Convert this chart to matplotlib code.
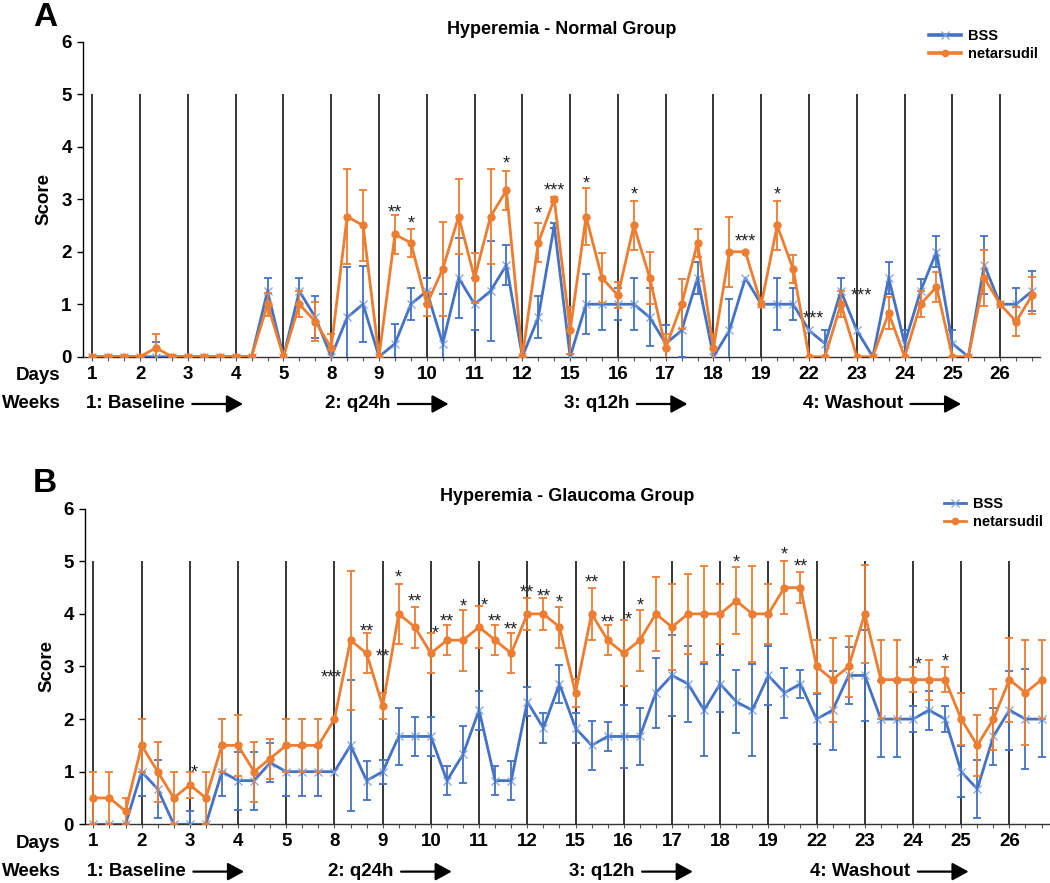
import matplotlib
matplotlib.use("Agg")
import matplotlib.pyplot as plt
from matplotlib.lines import Line2D
from matplotlib.text import OffsetFrom
from matplotlib.transforms import blended_transform_factory

plt.rcParams["font.family"] = ["Liberation Sans", "DejaVu Sans"]

days = [1, 2, 3, 4, 5, 8, 9, 10, 11, 12, 15, 16, 17, 18, 19, 22, 23, 24, 25, 26]
weeks = ["1: Baseline", "2: q24h", "3: q12h", "4: Washout"]
# three exams per day -> 60 timepoints

normal_bss = [0, 0, 0, 0, 0, 0, 0, 0, 0, 0, 0, 1.25,
              0, 1.25, 0.75, 0, 0.75, 1.0, 0, 0.25, 1.0, 1.25, 0.25, 1.5, 1.0, 1.25, 1.75, 0, 0.75, 2.5,
              0, 1.0, 1.0, 1.0, 1.0, 0.75, 0.25, 0.5, 1.5, 0, 0.5, 1.5, 1.0, 1.0, 1.0,
              0.5, 0.25, 1.25, 0.5, 0, 1.5, 0.25, 1.25, 2.0, 0.25, 0, 1.75, 1.0, 1.0, 1.25]
normal_bss_err = [0, 0, 0, 0, 0.28, 0, 0, 0, 0, 0, 0, 0.25,
                  0, 0.25, 0.4, 0, 0.95, 0.72, 0, 0.38, 0.3, 0.25, 0.95, 0.77, 0.5, 0.95, 0.38, 0, 0.4, 0.05,
                  0, 0.57, 0.5, 0.3, 0.5, 0.55, 0.35, 0.5, 0.3, 0, 0.6, 0, 0, 0.5, 0.3,
                  0, 0.25, 0.25, 0, 0, 0.3, 0.25, 0.23, 0.3, 0.25, 0, 0.55, 0, 0.3, 0.38]
normal_net = [0, 0, 0, 0, 0.17, 0, 0, 0, 0, 0, 0, 1.0,
              0, 1.0, 0.67, 0.17, 2.67, 2.5, 0, 2.33, 2.17, 1.0, 1.67, 2.67, 1.5, 2.67, 3.17, 0, 2.17, 3.0,
              0.5, 2.67, 1.5, 1.17, 2.5, 1.5, 0.17, 1.0, 2.17, 0.17, 2.0, 2.0, 1.0, 2.5, 1.67,
              0, 0, 1.0, 0, 0, 0.83, 0, 1.0, 1.33, 0, 0, 1.5, 1.0, 0.67, 1.17]
normal_net_err = [0, 0, 0, 0, 0.27, 0, 0, 0, 0, 0, 0, 0.22,
                  0, 0.25, 0.37, 0.27, 0.9, 0.67, 0, 0.37, 0.27, 0.23, 0.9, 0.72, 0.48, 0.9, 0.37, 0, 0.37, 0.05,
                  0.45, 0.55, 0.47, 0.25, 0.47, 0.5, 0.27, 0.48, 0.27, 0.27, 0.67, 0, 0, 0.47, 0.27,
                  0, 0, 0.25, 0, 0, 0.3, 0, 0.25, 0.28, 0, 0, 0.53, 0, 0.27, 0.35]
normal_star_x = [19, 20, 26, 28, 29, 31, 34, 41, 43, 45.3, 48.3]
normal_star_y = [2.86, 2.65, 3.78, 2.83, 3.27, 3.4, 3.19, 2.3, 3.19, 0.83, 1.28]
normal_stars = ["**", "*", "*", "*", "***", "*", "*", "***", "*", "***", "***"]

glaucoma_bss = [0, 0, 0, 1.0, 0.67, 0, 0, 0, 1.0, 0.83, 0.83, 1.17,
                1.0, 1.0, 1.0, 1.0, 1.5, 0.83, 1.0, 1.67, 1.67, 1.67, 0.83, 1.33, 2.17, 0.83, 0.83, 2.33, 1.83, 2.67,
                1.83, 1.5, 1.67, 1.67, 1.67, 2.5, 2.83, 2.67, 2.17, 2.67, 2.33, 2.17, 2.83, 2.5, 2.67,
                2.0, 2.17, 2.83, 2.83, 2.0, 2.0, 2.0, 2.17, 2.0, 1.0, 0.67, 1.67, 2.17, 2.0, 2.0]
glaucoma_bss_err = [0, 0, 0, 0.47, 0.55, 0, 0.25, 0, 0.47, 0.55, 0.55, 0.37,
                    0.47, 0.47, 0.47, 0, 1.25, 0.37, 0.23, 0.55, 0.37, 0.37, 0.27, 0.54, 0.37, 0.27, 0.37, 0.28, 0.28, 0.36,
                    0.28, 0.47, 0.27, 0.6, 0.55, 0.66, 0.77, 0.72, 0.87, 0.54, 0.6, 0.87, 0.56, 0.47, 0.27,
                    0.48, 0.75, 0.55, 0.87, 0.72, 0.72, 0.24, 0.37, 0.24, 0.48, 0.55, 0.55, 0.75, 0.95, 0.72]
glaucoma_net = [0.5, 0.5, 0.25, 1.5, 1.0, 0.5, 0.75, 0.5, 1.5, 1.5, 1.0, 1.25,
                1.5, 1.5, 1.5, 2.0, 3.5, 3.25, 2.25, 4.0, 3.75, 3.25, 3.5, 3.5, 3.75, 3.5, 3.25, 4.0, 4.0, 3.75,
                2.5, 4.0, 3.5, 3.25, 3.5, 4.0, 3.75, 4.0, 4.0, 4.0, 4.25, 4.0, 4.0, 4.5, 4.5,
                3.0, 2.75, 3.0, 4.0, 2.75, 2.75, 2.75, 2.75, 2.75, 2.0, 1.5, 2.0, 2.75, 2.5, 2.75]
glaucoma_net_err = [0.5, 0.5, 0.25, 0.5, 0.57, 0.5, 0.25, 0.5, 0.5, 0.58, 0.57, 0.38,
                    0.5, 0.5, 0.5, 0, 1.32, 0.38, 0.25, 0.57, 0.39, 0.38, 0.29, 0.58, 0.4, 0.29, 0.38, 0.3, 0.3, 0.39,
                    0.27, 0.5, 0.29, 0.63, 0.58, 0.7, 0.82, 0.76, 0.92, 0.57, 0.64, 0.92, 0.57, 0.5, 0.29,
                    0.5, 0.8, 0.58, 0.93, 0.75, 0.75, 0.24, 0.38, 0.24, 0.5, 0.58, 0.58, 0.8, 1.0, 0.75]
glaucoma_star_x = [6.27, 14.8, 17, 18, 19, 20, 21.3, 22, 23, 24.3, 25, 26, 27, 28, 29,
                   31, 32, 33.3, 34, 40, 43, 44, 51.3, 53]
glaucoma_star_y = [1.09, 2.9, 3.77, 3.3, 4.8, 4.35, 3.74, 3.97, 4.24, 4.27, 3.96, 3.8, 4.51, 4.43, 4.33,
                   4.7, 3.95, 4.0, 4.27, 5.09, 5.24, 5.0, 3.14, 3.2]
glaucoma_stars = ["*", "***", "**", "**", "*", "**", "*", "**", "*", "*", "**", "**", "**", "**", "*",
                  "**", "**", "*", "*", "*", "*", "**", "*", "*"]

BLUE = "#4472C4"
ORANGE = "#ED7D31"
FS = 13.5


def plot_series(ax, y, err, color, marker, ms, mew, mec):
    x = list(range(len(y)))
    ax.plot(x, y, color=color, lw=2.0, marker=marker, ms=ms, mew=mew,
            mec=mec, mfc=color, zorder=3)
    ex = [i for i in x if err[i] > 0]
    ax.errorbar(ex, [y[i] for i in ex], yerr=[err[i] for i in ex], fmt="none",
                ecolor=color, elinewidth=1.3, capsize=3, capthick=1.3, zorder=3)


def draw_panel(fig, rect, xmin, title, letter, letter_y, title_y,
               bss, bss_err, net, net_err, sx, sy, stars, leg_anchor, leg_lw, leg_hl):
    ax = fig.add_axes(rect)
    ax.vlines([3 * i for i in range(len(days))], 0, 5, color="black", lw=1.1, zorder=1)
    plot_series(ax, bss, bss_err, BLUE, "x", 5.5, 0.9, "#7FA2DE")
    plot_series(ax, net, net_err, ORANGE, "o", 6, 0, ORANGE)
    for x, y, s in zip(sx, sy, stars):
        ax.text(x, y - 0.2, s, ha="center", va="baseline", fontsize=13, color="#222222")

    ax.set_xlim(xmin, 59.5)
    ax.set_ylim(0, 6)
    ax.set_yticks(range(7))
    ax.set_yticklabels([str(v) for v in range(7)], fontsize=FS, fontweight="bold")
    ax.set_xticks(range(60))
    ax.set_xticklabels([])
    ax.tick_params(axis="x", length=3, width=0.8, color="#555555")
    ax.tick_params(axis="y", length=4, width=1, pad=4)
    for side in ("top", "right"):
        ax.spines[side].set_visible(False)
    ax.spines["left"].set_linewidth(1.0)
    ax.spines["bottom"].set_linewidth(1.0)
    ax.spines["bottom"].set_color("#333333")
    ax.set_ylabel("Score", fontsize=FS, fontweight="bold", labelpad=6)

    xt = ax.get_xaxis_transform()
    for i, d in enumerate(days):
        ax.text(3 * i, -0.055, str(d), transform=xt, ha="center", va="center",
                fontsize=FS, fontweight="bold")
    bt = blended_transform_factory(fig.transFigure, ax.transAxes)
    ax.text(38 / 1050, -0.06, "Days", transform=bt, ha="center", va="center",
            fontsize=FS, fontweight="bold")
    ax.text(2 / 1050, -0.15, "Weeks", transform=bt, ha="left", va="center",
            fontsize=FS, fontweight="bold")
    for w, lab in enumerate(weeks):
        t = ax.text(15 * w - 0.4, -0.15, lab, transform=xt, ha="left", va="center",
                    fontsize=FS, fontweight="bold")
        ref = OffsetFrom(t, (1.0, 0.5))
        ax.annotate("", xy=(42, 0), xycoords=ref, xytext=(5.5, 0), textcoords=ref,
                    arrowprops=dict(arrowstyle="-|>,head_length=0.55,head_width=0.3",
                                    mutation_scale=18, lw=1.6, color="black",
                                    shrinkA=0, shrinkB=0),
                    annotation_clip=False)

    cx = rect[0] + rect[2] / 2
    fig.text(cx, title_y, title, ha="center", va="center", fontsize=13, fontweight="bold")
    fig.text(45 / 1050, letter_y, letter, ha="center", va="center", fontsize=24, fontweight="bold")

    handles = [
        Line2D([], [], color=BLUE, lw=leg_lw, marker="x", ms=5.5, mew=0.9, mec="#7FA2DE"),
        Line2D([], [], color=ORANGE, lw=leg_lw, marker="o", ms=5.5, mew=0),
    ]
    fig.legend(handles, ["BSS", "netarsudil"], loc="upper left", bbox_to_anchor=leg_anchor,
               frameon=False, prop={"size": 10.5, "weight": "bold"}, handlelength=leg_hl,
               handletextpad=0.5, labelspacing=0.25, borderpad=0, borderaxespad=0)
    return ax


def main():
    fig = plt.figure(figsize=(10.5, 8.83), dpi=100)

    draw_panel(fig, [0.0788, 0.596, 0.9117, 0.3567], -0.6,
               "Hyperemia - Normal Group", "A", 1 - 18 / 883, 1 - 30 / 883,
               normal_bss, normal_bss_err, normal_net, normal_net_err,
               normal_star_x, normal_star_y, normal_stars,
               (929 / 1050, 1 - 29 / 883), 2.6, 2.2)

    draw_panel(fig, [0.081, 0.0665, 0.9186, 0.3574], -0.52,
               "Hyperemia - Glaucoma Group", "B", 1 - 483 / 883, 1 - 497 / 883,
               glaucoma_bss, glaucoma_bss_err, glaucoma_net, glaucoma_net_err,
               glaucoma_star_x, glaucoma_star_y, glaucoma_stars,
               (944 / 1050, 1 - 497 / 883), 2.0, 1.5)

    fig.savefig("out.png", dpi=100)
    plt.close(fig)


if __name__ == "__main__":
    main()
